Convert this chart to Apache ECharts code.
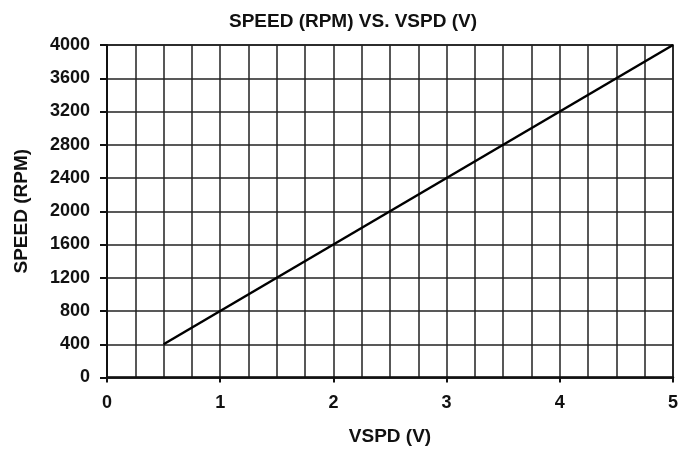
<!DOCTYPE html>
<html>
<head>
<meta charset="utf-8">
<script src="https://cdn.jsdelivr.net/npm/echarts@6/dist/echarts.min.js"></script>
<style>
  html, body { margin: 0; padding: 0; background: #fff; }
  #main { width: 681px; height: 451px; }
</style>
</head>
<body>
<div id="main"></div>
<script>
// data
var vspd = [0.5, 5];
var speed = [400, 4000];

var myChart = echarts.init(document.getElementById('main'));
var font = 'Liberation Sans, Arial, sans-serif';

var points = [];
for (var i = 0; i < vspd.length; i++) {
	points.push([vspd[i], speed[i]]);
}

var option = {
	animation: false,
	backgroundColor: '#fff',
	title: {
		text: 'SPEED (RPM) VS. VSPD (V)',
		left: 348,
		top: 7,
		textAlign: 'center',
		textStyle: { color: '#111', fontSize: 19, fontWeight: 'bold', fontFamily: font }
	},
	grid: {
		left: 107,
		right: 6,
		top: 45,
		bottom: 73,
		show: true,
		borderColor: '#111',
		borderWidth: 1.5
	},
	xAxis: {
		type: 'value',
		min: 0,
		max: 5,
		interval: 1,
		name: 'VSPD (V)',
		nameLocation: 'middle',
		nameGap: 59,
		nameTextStyle: { color: '#111', fontSize: 19, fontWeight: 'bold', fontFamily: font, verticalAlign: 'middle' },
		axisLine: { show: true, lineStyle: { color: '#111', width: 2.5 } },
		axisTick: { show: true, length: 5, lineStyle: { color: '#111', width: 2 } },
		axisLabel: { color: '#111', fontSize: 18, fontWeight: 'bold', fontFamily: font, margin: 17 },
		splitLine: { show: true, lineStyle: { color: '#222', width: 1.5 } },
		minorTick: { show: false, splitNumber: 4 },
		minorSplitLine: { show: true, lineStyle: { color: '#222', width: 1.5 } }
	},
	yAxis: {
		type: 'value',
		min: 0,
		max: 4000,
		interval: 400,
		name: 'SPEED (RPM)',
		nameLocation: 'middle',
		nameGap: 85,
		nameTextStyle: { color: '#111', fontSize: 19, fontWeight: 'bold', fontFamily: font, verticalAlign: 'middle' },
		axisLine: { show: true, lineStyle: { color: '#111', width: 2 } },
		axisTick: { show: true, length: 7, lineStyle: { color: '#111', width: 2 } },
		axisLabel: {
			color: '#111', fontSize: 18, fontWeight: 'bold', fontFamily: font, margin: 17,
			formatter: function(v) { return String(v); }
		},
		splitLine: { show: true, lineStyle: { color: '#222', width: 1.5 } }
	},
	series: [{
		type: 'line',
		data: points,
		symbol: 'none',
		lineStyle: { color: '#000', width: 2.5 }
	}]
};
myChart.setOption(option);
</script>
</body>
</html>
